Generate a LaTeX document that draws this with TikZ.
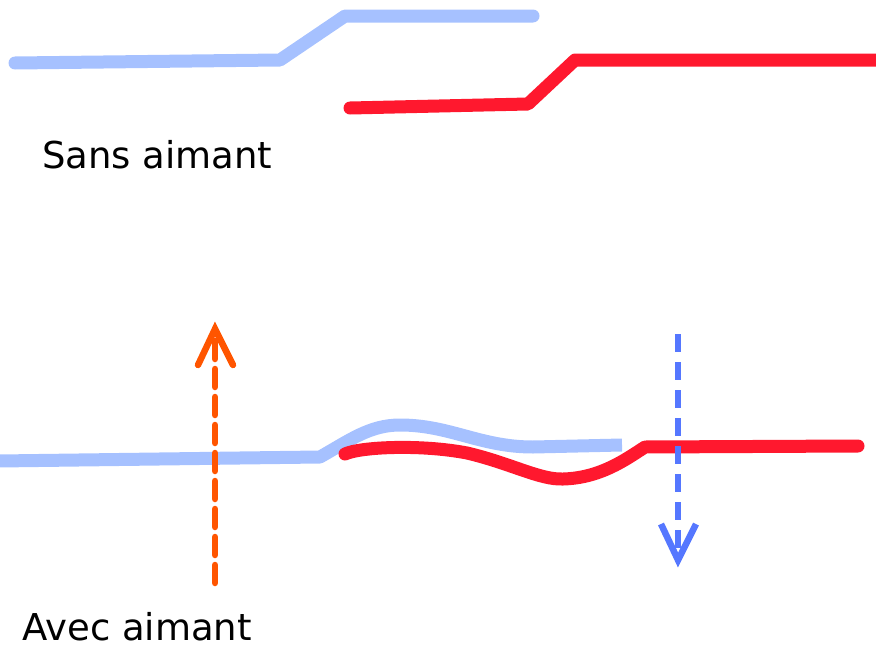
\documentclass[tikz,border=0pt]{standalone}
\usepackage{fontspec}
\setmainfont{DejaVu Sans}
\begin{document}
\begin{tikzpicture}[x=1pt,y=-1pt,
  lightband/.style={draw={rgb,255:red,166;green,193;blue,255},line width=13pt,line cap=round,line join=round},
  redband/.style={draw={rgb,255:red,255;green,24;blue,46},line width=13pt,line cap=round,line join=round},
  orangearrow/.style={draw={rgb,255:red,255;green,85;blue,0},line width=6.5pt},
  bluearrow/.style={draw={rgb,255:red,85;green,119;blue,255},line width=6.5pt},
  dashes/.style={dash pattern=on 18pt off 10pt},
  label/.style={anchor=base west,inner sep=0pt,font=\fontsize{37}{44}\selectfont}]
\useasboundingbox (0,0) rectangle (876,648);
% upper pair of steps
\draw[lightband] (15,63) -- (280,60) -- (345,16) -- (533,16);
\draw[redband] (350,108) -- (528,104) -- (575,60) -- (880,60);
\node[label] (sans) at (42,168) {Sans aimant};
% lower pair, distorted
\draw[lightband,line cap=butt] (-2,461) -- (320,457)
  .. controls (350,440) and (370,425) .. (400,425)
  .. controls (450,425) and (480,447) .. (533,447) -- (622,445);
\draw[redband] (345,454) .. controls (360,447) and (420,444) .. (467,453)
  .. controls (510,463) and (540,480) .. (563,479)
  .. controls (600,478) and (625,460) .. (645,447) -- (858,446);
% orange arrow going up
\coordinate (ob) at (215,583);
\coordinate (ot) at (215,330);
\draw[orangearrow,dashes,line cap=round] (ob) -- (ot);
\draw[orangearrow,line cap=round,line join=miter] (198,365) -- (215,329) -- (233,365);
% blue arrow going down
\coordinate (bt) at (678,334);
\coordinate (bb) at (678,560);
\draw[bluearrow,dashes] (bt) -- (bb);
\draw[bluearrow,line join=miter] (661,524) -- (678,560) -- (696,524);
\node[label] (avec) at (22,640) {Avec aimant};
\end{tikzpicture}
\end{document}
